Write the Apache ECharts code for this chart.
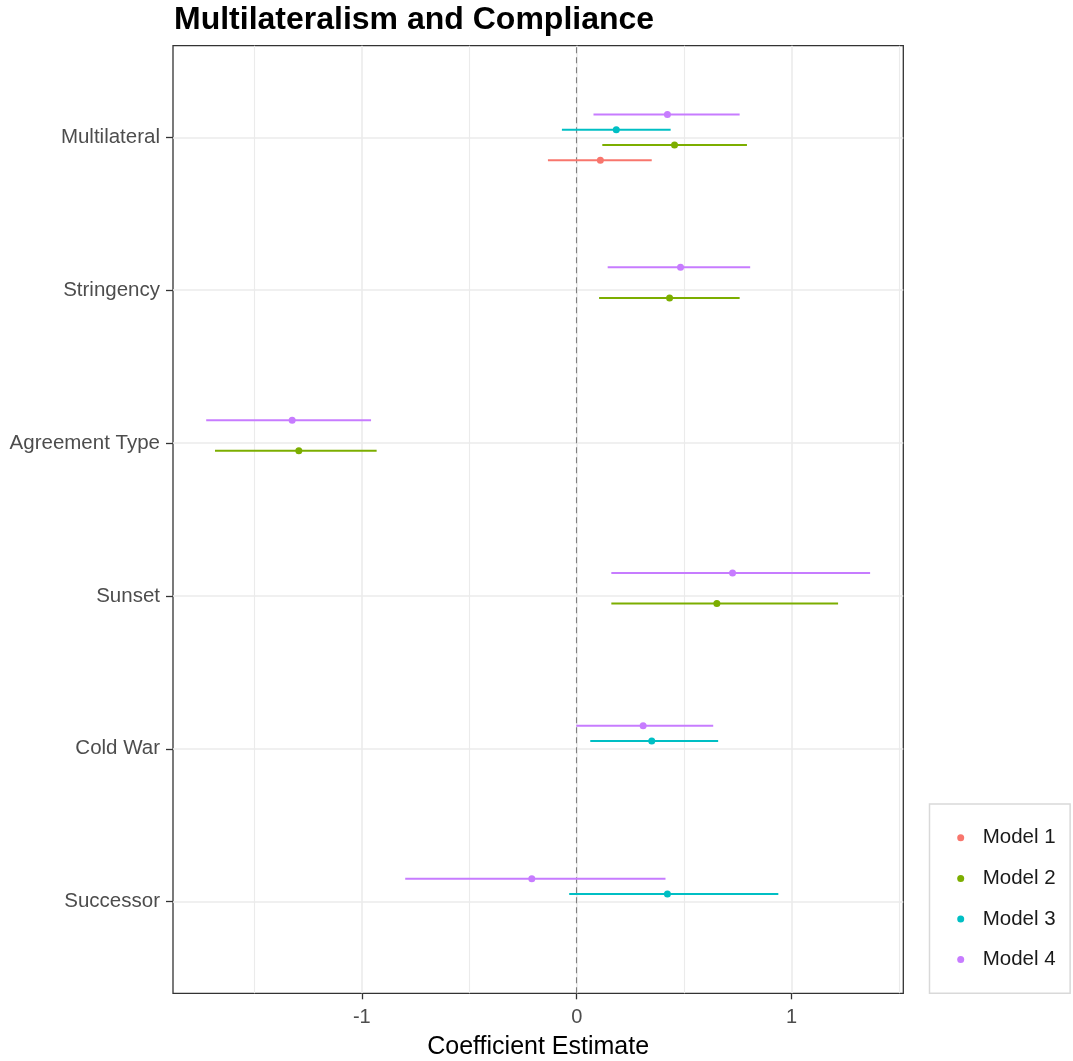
<!DOCTYPE html>
<html>
<head>
<meta charset="utf-8">
<script src="https://cdn.jsdelivr.net/npm/echarts@6/dist/echarts.min.js"></script>
<style>
html,body{margin:0;padding:0;background:#fff;}
#chart{width:1073px;height:1061px;}
</style>
</head>
<body>
<div id="chart"></div>
<script>
// Categories, top to bottom as displayed
const categories = ['Multilateral', 'Stringency', 'Agreement Type', 'Sunset', 'Cold War', 'Successor'];
const modelNames = ['Model 1', 'Model 2', 'Model 3', 'Model 4'];
const xTickLabels = [-1, 0, 1];

// Coefficient estimates and interval bounds per model (null = not in model)
const model1Est = [0.110, null, null, null, null, null];
const model1Lo  = [-0.134, null, null, null, null, null];
const model1Hi  = [0.349, null, null, null, null, null];

const model2Est = [0.455, 0.432, -1.293, 0.652, null, null];
const model2Lo  = [0.119, 0.104, -1.683, 0.161, null, null];
const model2Hi  = [0.792, 0.758, -0.931, 1.216, null, null];

const model3Est = [0.184, null, null, null, 0.349, 0.422];
const model3Lo  = [-0.069, null, null, null, 0.063, -0.035];
const model3Hi  = [0.437, null, null, null, 0.658, 0.938];

const model4Est = [0.422, 0.483, -1.324, 0.725, 0.309, -0.209];
const model4Lo  = [0.078, 0.144, -1.724, 0.161, -0.002, -0.798];
const model4Hi  = [0.758, 0.807, -0.957, 1.365, 0.635, 0.413];

const models = [
  {name: modelNames[0], est: model1Est, lo: model1Lo, hi: model1Hi},
  {name: modelNames[1], est: model2Est, lo: model2Lo, hi: model2Hi},
  {name: modelNames[2], est: model3Est, lo: model3Lo, hi: model3Hi},
  {name: modelNames[3], est: model4Est, lo: model4Lo, hi: model4Hi}
];

const colors = ['#F8766D', '#7CAE00', '#00BFC4', '#C77CFF'];
const dodge = [-0.15, -0.05, 0.05, 0.15];
const FONT = '"Liberation Sans", Arial, sans-serif';

const nCat = categories.length;
const catPos = categories.map((c, i) => nCat - i);   // 6 .. 1
const posToName = {};
catPos.forEach((p, i) => { posToName[p] = categories[i]; });

// data range for axis (ggplot 5% expansion)
let allVals = [];
models.forEach(m => { m.lo.forEach(v => { if (v !== null) allVals.push(v); }); m.hi.forEach(v => { if (v !== null) allVals.push(v); }); });
const dMin = Math.min.apply(null, allVals), dMax = Math.max.apply(null, allVals);
const pad = (dMax - dMin) * 0.05;
const xMin = dMin - pad, xMax = dMax + pad;

const chart = echarts.init(document.getElementById('chart'), null, {renderer: 'canvas'});

const series = models.map((m, k) => {
  const data = [];
  m.est.forEach((e, i) => {
    if (e === null) return;
    data.push([catPos[i] + dodge[k], e, m.lo[i], m.hi[i]]);
  });
  return {
    type: 'custom',
    name: m.name,
    xAxisIndex: 0,
    yAxisIndex: 0,
    itemStyle: {color: colors[k]},
    encode: {x: [1, 2, 3], y: 0},
    data: data,
    z: 5,
    renderItem: function (params, api) {
      const y = api.value(0);
      const p0 = api.coord([api.value(2), y]);
      const p1 = api.coord([api.value(3), y]);
      const pc = api.coord([api.value(1), y]);
      return {
        type: 'group',
        children: [
          {type: 'line', shape: {x1: p0[0], y1: p0[1], x2: p1[0], y2: p1[1]},
           style: {stroke: colors[k], lineWidth: 2}},
          {type: 'circle', shape: {cx: pc[0], cy: pc[1], r: 3.5},
           style: {fill: colors[k]}}
        ]
      };
    }
  };
});

// zero reference line
series.push({
  type: 'line',
  name: 'zero',
  data: [],
  xAxisIndex: 0,
  yAxisIndex: 0,
  markLine: {
    silent: true,
    symbol: ['none', 'none'],
    label: {show: false},
    lineStyle: {color: '#808080', type: [6, 4], width: 1.1},
    data: [{xAxis: 0}]
  },
  z: 4
});

const option = {
  animation: false,
  backgroundColor: '#ffffff',
  title: {
    text: 'Multilateralism and Compliance',
    left: 174,
    top: 2,
    padding: 0,
    textStyle: {fontFamily: FONT, fontWeight: 'bold', fontSize: 32, color: '#000', lineHeight: 36}
  },
  legend: {
    data: modelNames,
    orient: 'vertical',
    left: 929.5,
    top: 804,
    padding: [23.3, 14.5, 23.2, 27.7],
    borderColor: '#D9D9D9',
    borderWidth: 1.5,
    backgroundColor: '#fff',
    icon: 'circle',
    itemWidth: 7,
    itemHeight: 7,
    itemGap: 19.6,
    textStyle: {fontFamily: FONT, fontSize: 20.5, color: '#1A1A1A', lineHeight: 20, padding: [0, 0, 0, 13.5]}
  },
  grid: {
    left: 173,
    top: 45.7,
    width: 730.3,
    height: 947.6,
    show: true,
    borderColor: '#333333',
    borderWidth: 1.3,
    backgroundColor: '#ffffff',
    outerBoundsMode: 'none',
    containLabel: false
  },
  xAxis: [
    {
      type: 'value',
      min: xMin,
      max: xMax,
      position: 'bottom',
      name: 'Coefficient Estimate',
      nameLocation: 'middle',
      nameGap: 39,
      nameTextStyle: {fontFamily: FONT, fontSize: 25, color: '#000', lineHeight: 30},
      axisLine: {show: false, onZero: false},
      axisTick: {show: true, length: 6, customValues: xTickLabels, lineStyle: {color: '#333333', width: 1.3}},
      axisLabel: {customValues: xTickLabels, margin: 14, fontFamily: FONT, fontSize: 20, color: '#4D4D4D'},
      splitLine: {show: true, lineStyle: {color: '#EBEBEB', width: 1.6}}
    },
    {
      type: 'value',
      min: xMin,
      max: xMax,
      position: 'bottom',
      axisLine: {show: false, onZero: false},
      axisTick: {show: false, customValues: [-1.5, -0.5, 0.5, 1.5]},
      axisLabel: {show: false, customValues: [-1.5, -0.5, 0.5, 1.5]},
      splitLine: {show: true, lineStyle: {color: '#EBEBEB', width: 1.1}}
    }
  ],
  yAxis: {
    type: 'value',
    min: 0.4,
    max: 6.6,
    position: 'left',
    axisLine: {show: false, onZero: false},
    axisTick: {show: true, length: 7, customValues: catPos, lineStyle: {color: '#333333', width: 1.3}},
    axisLabel: {
      customValues: catPos,
      margin: 13,
      padding: [8, 0, 0, 0],
      fontFamily: FONT, fontSize: 20.5, color: '#4D4D4D',
      formatter: function (v) { return posToName[Math.round(v)] || ''; }
    },
    splitLine: {show: true, lineStyle: {color: '#EBEBEB', width: 1.6}}
  },
  series: series
};

chart.setOption(option);
</script>
</body>
</html>
